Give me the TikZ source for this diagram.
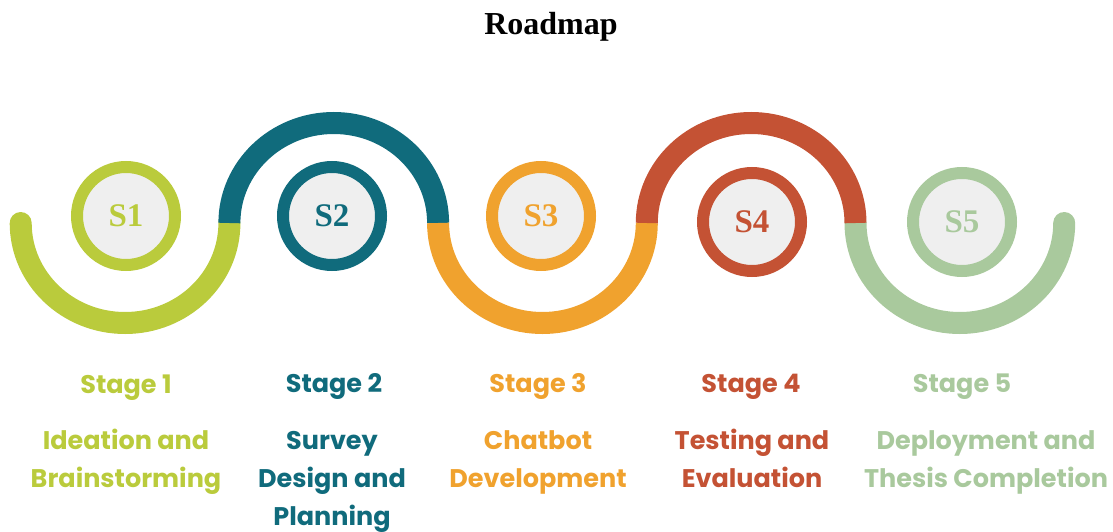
\documentclass[tikz,border=0pt]{standalone}
\usepackage{fontspec}
\setmainfont{Liberation Serif}
\newfontfamily\poppins{Poppins}
\definecolor{col1}{HTML}{BACB3C}
\definecolor{col2}{HTML}{106B7C}
\definecolor{col3}{HTML}{F0A22E}
\definecolor{col4}{HTML}{C45234}
\definecolor{col5}{HTML}{A9C99D}
\definecolor{ringfill}{HTML}{EFEFEF}
\begin{document}
\begin{tikzpicture}[x=1pt,y=-1pt]
    \useasboundingbox (0,0) rectangle (1113,532);
    \node[anchor=base, font=\bfseries\fontsize{32}{32}\selectfont] (title) at (551,35) {Roadmap};
    \begin{scope}
        \tikzstyle{every path}=[line width=22pt]
        \draw[col1, line cap=round] (20.7,223) arc[start angle=180, end angle=0, x radius=104.35, y radius=100];
        \draw[col5, line cap=round] (855.5,223) arc[start angle=180, end angle=0, x radius=104.35, y radius=100];
        \draw[col2] (229.4,223) arc[start angle=180, end angle=360, x radius=104.35, y radius=100];
        \draw[col3] (438.1,223) arc[start angle=180, end angle=0, x radius=104.35, y radius=100];
        \draw[col4] (646.8,223) arc[start angle=180, end angle=360, x radius=104.35, y radius=100];
    \end{scope}
    \begin{scope}
        \tikzstyle{every node}=[circle, fill=ringfill, line width=12pt, minimum size=98pt, inner sep=0pt, font=\bfseries\fontsize{33}{33}\selectfont]
        \node[draw=col1, text=col1] (s1) at (126,216) {S1};
        \node[draw=col2, text=col2] (s2) at (332,216) {S2};
        \node[draw=col3, text=col3] (s3) at (541,216) {S3};
        \node[draw=col4, text=col4] (s4) at (752,222) {S4};
        \node[draw=col5, text=col5] (s5) at (962,222) {S5};
    \end{scope}
    \begin{scope}
        \tikzstyle{every node}=[font=\poppins\bfseries\fontsize{25.5}{38}\selectfont, align=center, inner sep=0pt]
        \node[text=col1, anchor=base] (stage1) at (126,393) {Stage 1};
        \node[text=col2, anchor=base] (stage2) at (334,392) {Stage 2};
        \node[text=col3, anchor=base] (stage3) at (538,392) {Stage 3};
        \node[text=col4, anchor=base] (stage4) at (751,392) {Stage 4};
        \node[text=col5, anchor=base] (stage5) at (962,392) {Stage 5};
        \node[text=col1, anchor=north] (task1) at (126,423) {\strut Ideation and\\Brainstorming};
        \node[text=col2, anchor=north] (task2) at (332,423) {\strut Survey\\Design and\\Planning};
        \node[text=col3, anchor=north] (task3) at (538,423) {\strut Chatbot\\Development};
        \node[text=col4, anchor=north] (task4) at (752,423) {\strut Testing and\\Evaluation};
        \node[text=col5, anchor=north] (task5) at (986,423) {\strut Deployment and\\Thesis Completion};
    \end{scope}
\end{tikzpicture}
\end{document}
